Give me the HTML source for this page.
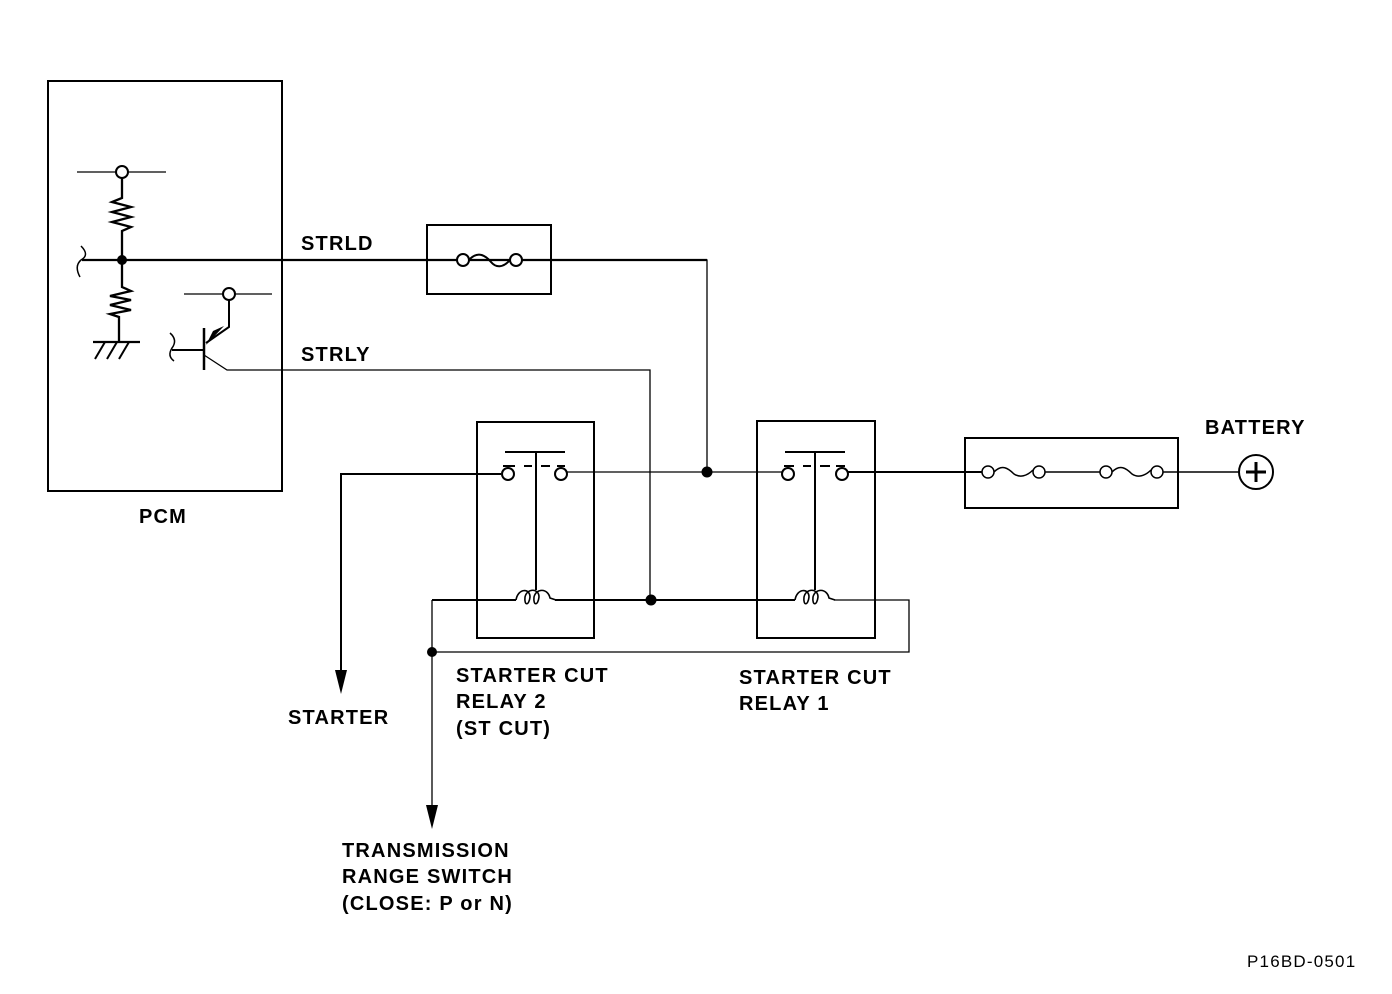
<!DOCTYPE html>
<html><head><meta charset="utf-8"><style>
html,body{margin:0;padding:0;background:#fff;}
svg{display:block;}
text{font-family:"Liberation Sans",Arial,sans-serif;font-weight:bold;font-size:20px;fill:#000;letter-spacing:1.2px;}
</style></head><body>
<svg width="1392" height="994" viewBox="0 0 1392 994" xmlns="http://www.w3.org/2000/svg">
<g fill="none" stroke="#000" stroke-width="2">
<rect x="48" y="81" width="234" height="410"/>
<line x1="77" y1="172" x2="166" y2="172" stroke-width="1.3"/>
<circle cx="122" cy="172" r="6" fill="#fff"/>
<polyline points="122,178 122,198 112,202 131,207 112,212 131,217 112,222 131,227 122,231 122,260" stroke-width="2.3"/>
<path d="M81,246 Q90,255 81,260 Q74,266 80,277" stroke-width="1.5"/>
<line x1="82" y1="260" x2="707" y2="260" stroke-width="2.2"/>
<polyline points="122,260 122,287 131,291 110,296 131,300 110,305 131,310 110,314 119,317 119,342" stroke-width="2.3"/>
<line x1="93" y1="342" x2="140" y2="342" stroke-width="2.3"/>
<line x1="105" y1="342" x2="95" y2="359"/>
<line x1="117" y1="342" x2="107" y2="359"/>
<line x1="129" y1="342" x2="119" y2="359"/>
<line x1="184" y1="294" x2="272" y2="294" stroke-width="1.3"/>
<circle cx="229" cy="294" r="6" fill="#fff"/>
<polyline points="229,300 229,327 206,343"/>
<path d="M170,333 Q178,340 172,348 Q167,356 174,361" stroke-width="1.5"/>
<line x1="172" y1="350" x2="204" y2="350"/>
<line x1="204" y1="328" x2="204" y2="370" stroke-width="2.5"/>
<polyline points="204,355 227,370 650,370 650,600" stroke-width="1.3"/>
<rect x="427" y="225" width="124" height="69"/>
<circle cx="463" cy="260" r="6" fill="#fff"/>
<circle cx="516" cy="260" r="6" fill="#fff"/>
<path d="M469,260 C478,250 486,256 491,262 C496,268 503,268 510,260" />
<polyline points="551,260 707,260 707,472" stroke-width="1.3"/>
<rect x="477" y="422" width="117" height="216"/>
<rect x="757" y="421" width="118" height="217"/>
<polyline points="341,690 341,474 501,474" stroke-width="2"/>
<circle cx="508" cy="474" r="6" fill="#fff"/>
<circle cx="561" cy="474" r="6" fill="#fff"/>
<line x1="505" y1="452" x2="565" y2="452"/>
<line x1="536" y1="452" x2="536" y2="590"/>
<line x1="503" y1="466" x2="515" y2="466"/><line x1="524" y1="466" x2="532" y2="466"/><line x1="541" y1="466" x2="550" y2="466"/><line x1="557" y1="466" x2="565" y2="466"/>
<line x1="567" y1="472" x2="782" y2="472" stroke-width="1.3"/>
<circle cx="788" cy="474" r="6" fill="#fff"/>
<circle cx="842" cy="474" r="6" fill="#fff"/>
<line x1="785" y1="452" x2="845" y2="452"/>
<line x1="815" y1="452" x2="815" y2="590"/>
<line x1="784" y1="466" x2="794" y2="466"/><line x1="803" y1="466" x2="811" y2="466"/><line x1="820" y1="466" x2="830" y2="466"/><line x1="836" y1="466" x2="845" y2="466"/>
<line x1="848" y1="472" x2="965" y2="472"/>
<rect x="965" y="438" width="213" height="70"/>
<line x1="950" y1="472" x2="983" y2="472"/>
<circle cx="988" cy="472" r="6" fill="#fff" stroke-width="1.5"/>
<path d="M994,472 C1002,464 1008,468 1014,474 C1020,478 1027,476 1033,470" stroke-width="1.5"/>
<circle cx="1039" cy="472" r="6" fill="#fff" stroke-width="1.5"/>
<line x1="1045" y1="472" x2="1100" y2="472" stroke-width="1.5"/>
<circle cx="1106" cy="472" r="6" fill="#fff" stroke-width="1.5"/>
<path d="M1112,472 C1120,464 1126,468 1132,474 C1138,478 1145,476 1151,470" stroke-width="1.5"/>
<circle cx="1157" cy="472" r="6" fill="#fff" stroke-width="1.5"/>
<line x1="1163" y1="472" x2="1240" y2="472" stroke-width="1.5"/>
<circle cx="1256" cy="472" r="17" fill="#fff"/>
<line x1="1246" y1="472" x2="1266" y2="472" stroke-width="3"/>
<line x1="1256" y1="462" x2="1256" y2="482" stroke-width="3"/>
<line x1="432" y1="600" x2="516" y2="600"/>
<path d="M516,600 C518,588 530,588 530,597 C529,606 524,606 525,597 C527,588 539,588 539,597 C538,606 533,606 534,597 C536,588 548,588 550,598 L556,600" stroke-width="1.6"/>
<line x1="555" y1="600" x2="795" y2="600"/>
<path d="M795,600 C797,588 809,588 809,597 C808,606 803,606 804,597 C806,588 818,588 818,597 C817,606 812,606 813,597 C815,588 827,588 829,598 L835,600" stroke-width="1.6"/>
<polyline points="834,600 909,600 909,652 432,652" stroke-width="1.3"/>
<line x1="432" y1="600" x2="432" y2="810" stroke-width="1.3"/>
</g>
<g fill="#000">
<circle cx="122" cy="260" r="5"/>
<circle cx="707" cy="472" r="5.5"/>
<circle cx="651" cy="600" r="5.5"/>
<circle cx="432" cy="652" r="5"/>
<polygon points="335,670 347,670 341,694"/>
<polygon points="426,805 438,805 432,829"/>
<polygon points="213,331 224,326 206,345"/>
</g>
<text x="301" y="250">STRLD</text>
<text x="301" y="361">STRLY</text>
<text x="139" y="523">PCM</text>
<text x="1205" y="434">BATTERY</text>
<text x="288" y="724">STARTER</text>
<text x="456" y="682">STARTER CUT</text>
<text x="456" y="708">RELAY 2</text>
<text x="456" y="735">(ST CUT)</text>
<text x="739" y="684">STARTER CUT</text>
<text x="739" y="710">RELAY 1</text>
<text x="342" y="857">TRANSMISSION</text>
<text x="342" y="883">RANGE SWITCH</text>
<text x="342" y="910">(CLOSE: P or N)</text>
<text x="1247" y="967" style="font-size:17px;font-weight:normal;letter-spacing:1.2px;-webkit-text-stroke:0.5px #000">P16BD-0501</text>
</svg>
</body></html>
